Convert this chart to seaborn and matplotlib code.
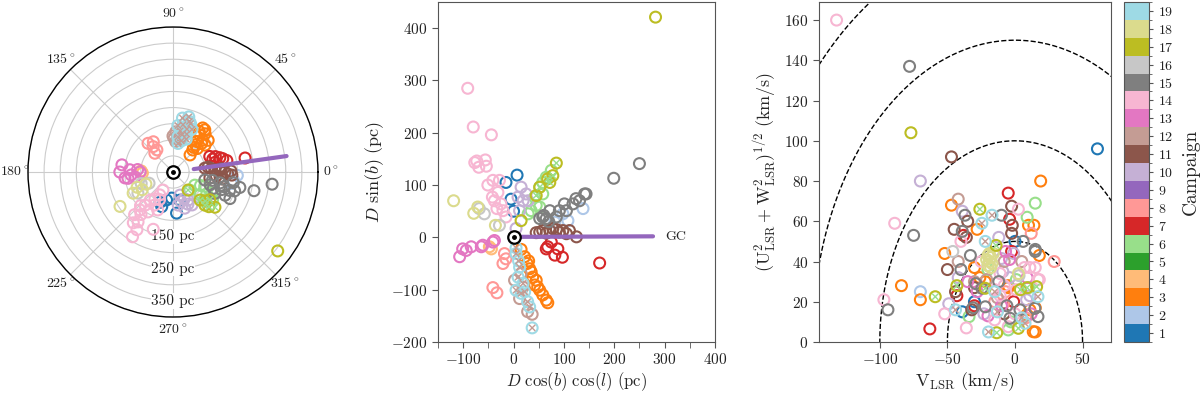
import numpy as np
import pandas as pd
import matplotlib
matplotlib.use("Agg")
import matplotlib.pyplot as plt
import seaborn as sns
from matplotlib.colors import ListedColormap, BoundaryNorm
from matplotlib.cm import ScalarMappable
from matplotlib.ticker import MultipleLocator

# ---------------- data ----------------
campaigns = list(range(1, 20))

# Panel 1 (polar): galactic longitude l (deg), distance D (pc) per campaign
polar_pts = {
    1: [(252, 63), (257, 39), (267, 31), (275, 78), (284, 40), (247, 52)],
    2: [(352, 140), (357, 150), (349, 135)],
    3: [(56, 115), (53, 114), (50, 105), (54, 92), (42, 97), (47, 85), (50, 60), (45, 75),
        (48, 42), (45, 25), (52, 70), (44, 55), (40, 80), (57, 100), (50, 50)],
    4: [(178, 49), (182, 45)],
    6: [(329, 29), (336, 58), (332, 88), (320, 60), (323, 93), (313, 27), (327, 75), (318, 80),
        (334, 45), (325, 100)],
    7: [(23, 74), (17, 102), (12, 121), (13, 84), (20, 90), (11, 178), (18, 80), (15, 110)],
    8: [(131, 68), (123, 62), (126, 35), (134, 31), (128, 50)],
    10: [(287, 25), (298, 49), (288, 68), (300, 68), (279, 54), (293, 40), (285, 45), (295, 60)],
    11: [(7, 50), (3, 80), (0, 111), (357, 133), (351, 66), (354, 97), (5, 70), (2, 95),
         (358, 120), (355, 85), (8, 60), (1, 130), (352, 105), (4, 100)],
    12: [(88, 55), (82, 60), (78, 50), (85, 45), (90, 62), (80, 70), (75, 58), (86, 75)],
    13: [(180, 115), (187, 100), (177, 84), (187.5, 69), (180, 52), (188, 91), (172, 110),
         (184, 80), (176, 60)],
    14: [(240, 32), (231, 62), (230, 84), (229, 106), (241, 67), (228, 128), (235, 139),
         (238, 187), (251, 138), (238, 161), (241, 14), (238, 96), (248, 77), (226, 95),
         (233, 115), (236, 50), (244, 45), (232, 150)],
    15: [(341, 72), (347, 100), (342, 135), (347, 163), (333, 96), (336, 127), (346, 52),
         (347, 208), (353, 260), (344, 115), (338, 85), (350, 140), (340, 110), (335, 145),
         (348, 75), (343, 150)],
    16: [(205, 32), (211, 77), (200, 55)],
    17: [(323, 357)],
    18: [(213, 146), (208, 90), (203, 71), (204, 42), (210, 60)],
}
# stars seen in two campaigns: (circle campaign, cross campaign) -> points
polar_dual = {
    (17, 6): [(310, 23), (314, 71), (323, 93), (314, 93), (320, 120), (318, 85), (316, 105)],
    (19, 12): [(80, 120), (74, 128), (70, 110), (78, 100), (84, 95), (72, 90), (66, 95), (80, 80),
               (76, 70), (70, 75), (82, 60), (68, 60), (75, 50), (80, 40), (72, 115)],
}
polar_gc_l = [8, 8]
polar_gc_d = [15, 306]

# Panel 2: D cos(b) cos(l) (pc), D sin(b) (pc)
xz_pts = {
    1: [(7, 119), (-15, 105), (-5, 73), (0, 50)],
    2: [(138, 55), (108, 32), (82, 29), (98, 45)],
    3: [(15, -23), (22, -37), (27, -50), (32, -60), (38, -76), (45, -82), (42, -91), (52, -101),
        (58, -110), (65, -120), (68, -125), (35, -66), (48, -95), (30, -45)],
    4: [(-48, -18), (-44, -22)],
    6: [(35, 51), (45, 61), (52, 96), (58, 105), (65, 115), (75, 128), (42, 77), (52, 58),
        (29, 45), (58, 83)],
    7: [(68, -18), (88, -22), (82, -34), (97, -38), (65, -22), (75, -9), (171, -49)],
    8: [(-18, -31), (-21, -50), (-41, -96), (-33, -106), (-15, -41)],
    10: [(15, 96), (9, 77), (25, 83), (19, 70), (5, 17), (12, 51), (29, 70)],
    11: [(45, 9), (58, 13), (72, 13), (85, 15), (98, 13), (111, 13), (125, 1), (52, 10),
         (65, 8), (78, 17), (91, 10), (105, 7)],
    12: [(15, -69), (2, -82), (12, -117), (37, -147), (28, -142), (19, -95)],
    13: [(-107, -37), (-101, -22), (-84, -18), (-64, -18), (-41, -9), (-61, -15), (-94, -25),
         (-38, -6)],
    14: [(-91, 285), (-80, 211), (-44, 196), (-77, 143), (-69, 134), (-56, 148), (-54, 136),
         (-73, 146), (-51, 100), (-41, 109), (-31, 86), (-38, 70), (-25, 64), (-21, 51),
         (-15, 39), (-33, 55), (-42, 77), (-28, 109)],
    15: [(250, 141), (199, 113), (141, 83), (124, 74), (118, 64), (101, 64), (91, 51), (72, 51),
         (58, 39), (52, 36), (65, 36), (85, 39), (105, 51), (131, 70), (144, 83), (60, 42),
         (70, 30)],
    16: [(-68, 55), (-58, 45), (-28, 23)],
    17: [(282, 421), (15, 32)],
    18: [(-119, 70), (-79, 46), (-71, 58), (-36, 23)],
}
xz_dual = {
    (17, 6): [(45, 80), (52, 96), (68, 112), (78, 118), (85, 142), (72, 105)],
    (19, 12): [(5, -31), (12, -57), (9, -76), (19, -88), (5, -101), (28, -123), (32, -133),
               (37, -173), (15, -107), (22, -104), (5, -20), (10, -45)],
}
xz_gc_x = [9, 277]
xz_gc_z = [1, 2]

# Panel 3: V_LSR (km/s), (U^2+W^2)^1/2 (km/s)
uvw_pts = {
    1: [(61, 96), (-39, 15), (0, 50), (-30, 20)],
    2: [(-70, 25), (-20, 38)],
    3: [(19, 80), (-84, 28), (-70, 21), (-52, 44), (10, 58), (14, 58), (18, 43), (15, 17),
        (15, 5), (-28, 56), (-47, 68), (-26, 32), (-5, 28), (8.6, 13.4), (13.5, 5.1),
        (-30, 37), (-22, 30), (-5, 27), (11, 16)],
    6: [(15, 69), (9, 62), (-34, 12.6), (1, 31), (-5, 6), (10, 27), (-3, 10), (-20, 36)],
    7: [(-63, 6.5), (-5, 74), (-4, 61), (-2.5, 45), (-43, 23), (-38, 53), (-30, 18), (-1, 20)],
    8: [(29, 40), (12, 54), (-7, 25), (-8.6, 19), (-15, 20), (8, 12)],
    10: [(-70, 80), (-39, 65), (-49, 19), (-42, 32), (-4, 32), (-1, 44), (-23, 14), (8.6, 21),
         (-10, 41.5), (11, 23), (-12, 52), (-9, 35)],
    11: [(-47, 92), (-50, 36), (-2.5, 67.5), (-45, 56), (-36, 52), (-2, 58), (-2.5, 54),
         (-44, 25), (-32, 16), (-30, 27), (-8, 14), (-35, 60)],
    12: [(-42, 71), (-42, 40), (-21, 31), (-8, 40), (-13, 22), (5, 40), (-30, 30)],
    13: [(9, 32), (-4, 41), (-7, 45), (-20, 13), (12, 14), (-28, 25), (-10, 18), (-35, 30)],
    14: [(-132, 160), (-89, 59), (-97, 21), (-52, 14), (-36, 7), (2.5, 66), (18, 31), (7, 37),
         (11, 37), (-15, 26), (-11, 23), (1, 26), (-11, 34), (17, 31), (15, 37), (-15, 11),
         (-5, 7.6), (0, 14), (-40, 50), (-25, 40), (-8, 28)],
    15: [(-78, 137), (-75, 53), (-94, 16), (15, 45), (-37, 63), (-10, 63), (-39, 55), (-33, 43),
         (-40, 36), (-29, 29), (-24.5, 26.7), (6, 50), (15, 46), (-31, 17), (-22, 17.5),
         (-3.7, 11.8), (3.7, 16), (14.7, 16.7), (17, 12.6), (-12, 30), (-6, 18)],
    16: [(-46, 45), (3, 33)],
    17: [(-77, 104)],
    18: [(-20, 38), (-19, 40), (-18, 42), (-20, 43), (-17, 39), (-21, 41), (-18, 37), (-16, 44),
         (-19, 44), (2.5, 34)],
}
uvw_dual = {
    (17, 6): [(-59, 22.5), (-26, 66), (-43, 28), (-22, 26.7), (4, 26), (9, 27), (16, 27.5),
              (-13.5, 4.6), (2.5, 6.8), (-14, 48)],
    (19, 12): [(-17, 63), (-24.5, 59), (17, 22.5), (-13, 15), (-19.6, 5), (7.4, 9.3), (-44, 16),
               (-22, 50), (-15, 25), (5, 12)],
}
speed_circles = [50, 100, 150, 200]

# ---------------- style ----------------
sns.set_style("ticks")
plt.rcParams.update({
    "font.family": ["serif"],
    "font.serif": ["cmr10", "DejaVu Serif"],
    "mathtext.fontset": "cm",
    "axes.formatter.use_mathtext": True,
    "axes.edgecolor": "#555555",
    "xtick.color": "#555555",
    "ytick.color": "#555555",
    "xtick.labelcolor": "#222222",
    "ytick.labelcolor": "#222222",
})

tab = plt.get_cmap("tab20").colors
camp_colors = list(tab[:18]) + [tab[19]]
palette = {c: camp_colors[c - 1] for c in campaigns}


def frame(pts):
    rows = [(c, a, b) for c, lst in pts.items() for a, b in lst]
    return pd.DataFrame(rows, columns=["campaign", "a", "b"])


def frame_dual(pts):
    rows = [(c1, c2, a, b) for (c1, c2), lst in pts.items() for a, b in lst]
    return pd.DataFrame(rows, columns=["campaign", "second", "a", "b"])


def hollow(ax, df, x, y, hue="campaign", marker="o", s=62, lw=1.5, z=3):
    sns.scatterplot(data=df, x=x, y=y, hue=hue, palette=palette, s=s, marker=marker,
                    ax=ax, legend=False, zorder=z)
    coll = ax.collections[-1]
    fc = coll.get_facecolors()
    coll.set_edgecolors(fc)
    if marker == "o":
        coll.set_facecolors("none")
    coll.set_linewidths(lw)


def draw_points(ax, pts, dual, tx=None):
    df = frame(pts)
    dd = frame_dual(dual)
    if tx is not None:
        df["a"] = tx(df["a"])
        dd["a"] = tx(dd["a"])
    hollow(ax, df, "a", "b")
    hollow(ax, dd, "a", "b")
    hollow(ax, dd, "a", "b", hue="second", marker="x", s=20, lw=1.0, z=4)
    ax.set_xlabel("")
    ax.set_ylabel("")


fig = plt.figure(figsize=(12, 3.94), dpi=100)

# ---------------- polar panel ----------------
ax0 = fig.add_axes([0.0233, 0.1954, 0.2417, 0.736], projection="polar")
draw_points(ax0, polar_pts, polar_dual, tx=np.deg2rad)
sns.lineplot(x=np.deg2rad(polar_gc_l), y=polar_gc_d, ax=ax0, color=tab[8], lw=3, zorder=5,
             estimator=None, sort=False)
ax0.plot([0], [-50], marker="o", ms=9, mfc="white", mec="black", mew=1.6, zorder=6, clip_on=False)
ax0.plot([0], [-50], marker="o", ms=2.5, color="black", zorder=7, clip_on=False)
ax0.set_ylim(-50, 400)
rt = list(range(0, 401, 50))
ax0.set_yticks(rt)
ax0.set_yticklabels([f"{v} pc" if v in (150, 250, 350) else "" for v in rt], fontsize=11)
ax0.set_rlabel_position(270)
for lbl in ax0.get_yticklabels():
    lbl.set_bbox(dict(facecolor="white", edgecolor="none", pad=0.5))
    lbl.set_horizontalalignment("center")
    lbl.set_verticalalignment("center")
ax0.set_xticks(np.deg2rad(np.arange(0, 360, 45)))
ax0.set_xticklabels([rf"${a}^\circ$" for a in range(0, 360, 45)], fontsize=10)
ax0.grid(True, color="#cccccc", lw=0.8)
ax0.spines["polar"].set_color("black")
ax0.spines["polar"].set_linewidth(1.0)
ax0.tick_params(axis="x", pad=-1)

# ---------------- Cartesian panel ----------------
ax1 = fig.add_axes([0.365, 0.132, 0.2308, 0.863])
draw_points(ax1, xz_pts, xz_dual)
sns.lineplot(x=xz_gc_x, y=xz_gc_z, ax=ax1, color=tab[8], lw=3, zorder=5,
             estimator=None, sort=False)
ax1.text(302, 0, "GC", fontsize=10, va="center", ha="left")
ax1.plot([0], [0], marker="o", ms=9, mfc="white", mec="black", mew=1.6, zorder=6)
ax1.plot([0], [0], marker="o", ms=2.5, color="black", zorder=7)
ax1.set_xlim(-150, 400)
ax1.set_ylim(-200, 450)
ax1.xaxis.set_major_locator(MultipleLocator(100))
ax1.xaxis.set_minor_locator(MultipleLocator(50))
ax1.yaxis.set_major_locator(MultipleLocator(100))
ax1.tick_params(which="both", length=4, labelsize=11)
ax1.set_xlabel(r"$D\ \cos(b)\ \cos(l)\ (\mathrm{pc})$", fontsize=12, labelpad=2)
ax1.set_ylabel(r"$D\ \sin(b)\ (\mathrm{pc})$", fontsize=13)

# ---------------- Toomre panel ----------------
ax2 = fig.add_axes([0.6825, 0.132, 0.2433, 0.863])
draw_points(ax2, uvw_pts, uvw_dual)
ang = np.linspace(0, np.pi, 400)
for r in speed_circles:
    ax2.plot(r * np.cos(ang), r * np.sin(ang), ls="--", color="black", lw=1.0, zorder=2)
ax2.set_xlim(-145, 71)
ax2.set_ylim(0, 169)
ax2.set_xticks([-100, -50, 0, 50])
ax2.set_yticks(range(0, 161, 20))
ax2.tick_params(length=4, labelsize=11)
ax2.set_xlabel(r"$\mathrm{V_{LSR}}\ (\mathrm{km/s})$", fontsize=13, labelpad=2)
ax2.set_ylabel(r"$(\mathrm{U^2_{LSR}} + \mathrm{W^2_{LSR}})^{1/2}\ (\mathrm{km/s})$", fontsize=13)

# ---------------- colorbar ----------------
cax = fig.add_axes([0.9367, 0.132, 0.0208, 0.863])
cmap = ListedColormap(camp_colors)
norm = BoundaryNorm(np.arange(0.5, 20.5, 1), cmap.N)
cb = fig.colorbar(ScalarMappable(norm=norm, cmap=cmap), cax=cax, ticks=campaigns)
cb.ax.tick_params(labelsize=10, length=3)
cb.set_label("Campaign", fontsize=14, labelpad=6)
cb.outline.set_edgecolor("#555555")

fig.savefig("out.png", dpi=100)
